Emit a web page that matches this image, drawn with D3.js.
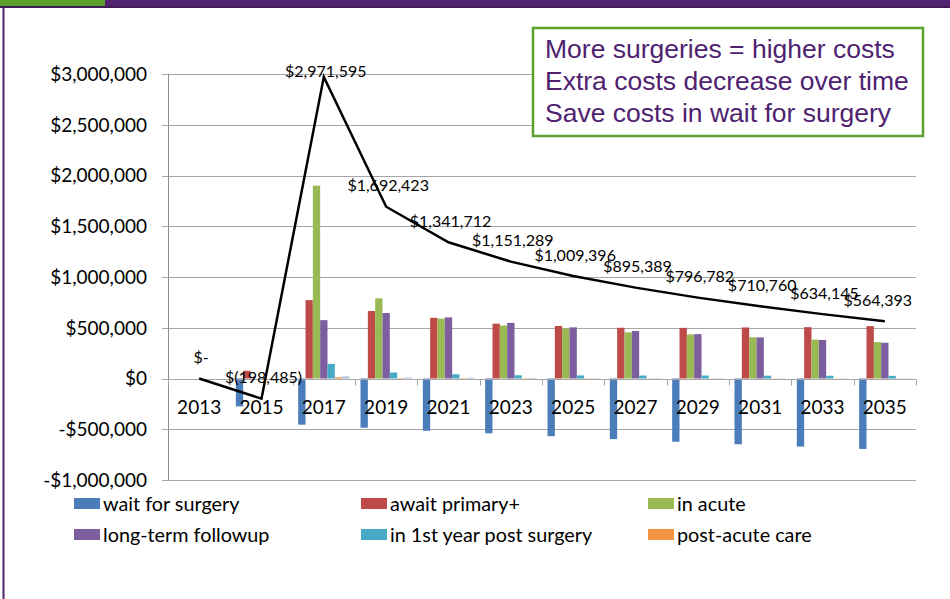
<!DOCTYPE html>
<html>
<head>
<meta charset="utf-8">
<script src="https://cdn.jsdelivr.net/npm/d3@7"></script>
<style>
  body { margin: 0; background: #fff; }
  svg { display: block; }
</style>
</head>
<body>
<div id="chart"></div>
<script>
// categories and series
const years = ["2013", "2015", "2017", "2019", "2021", "2023", "2025", "2027", "2029", "2031", "2033", "2035"];
const waitForSurgery = [0, -275000, -455000, -485000, -515000, -540000, -568000, -597000, -623000, -648000, -671000, -694000];
const awaitPrimary = [0, 76515, 772000, 665000, 598000, 540000, 517000, 500000, 499000, 503000, 506000, 516000];
const inAcute = [0, 0, 1900000, 790000, 590000, 522000, 492000, 455000, 434000, 406000, 383000, 358000];
const longTermFollowup = [0, 0, 575000, 645000, 602000, 548000, 504000, 468000, 437000, 405000, 380000, 352000];
const firstYearPost = [0, 0, 144000, 59000, 42000, 32000, 30000, 29000, 29000, 28000, 27000, 26000];
const postAcute = [0, 0, 13000, 5000, 4000, 3000, 3000, 3000, 2000, 2000, 2000, 2000];
const otherCare = [0, 0, 20000, 10000, 8000, 6000, 5000, 4000, 4000, 3000, 3000, 3000];
const totals = [0, -198485, 2971595, 1692423, 1341712, 1151289, 1009396, 895389, 796782, 710760, 634145, 564393];
const yTicks = [-1000000, -500000, 0, 500000, 1000000, 1500000, 2000000, 2500000, 3000000];
const notes = ["More surgeries = higher costs", "Extra costs decrease over time", "Save costs in wait for surgery"];

const series = [
  { name: "wait for surgery", values: waitForSurgery, color: "#4A7DBA", legend: true },
  { name: "await primary+", values: awaitPrimary, color: "#BE4B48", legend: true },
  { name: "in acute", values: inAcute, color: "#98B954", legend: true },
  { name: "long-term followup", values: longTermFollowup, color: "#7D5FA0", legend: true },
  { name: "in 1st year post surgery", values: firstYearPost, color: "#46AAC5", legend: true },
  { name: "post-acute care", values: postAcute, color: "#F59445", legend: true },
  { name: "other", values: otherCare, color: "#A9BCDF", legend: false }
];

const width = 950;
const height = 599;
const axisFont = "Lato, 'Liberation Sans', Arial, sans-serif";

const svg = d3.select("#chart")
  .append("svg")
  .attr("width", width)
  .attr("height", height);

// slide frame: banner on top and a line down the left
svg.append("rect").attr("x", 0).attr("y", 0).attr("width", width).attr("height", 8).attr("fill", "#52246F");
svg.append("rect").attr("x", 0).attr("y", 0).attr("width", 105).attr("height", 6).attr("fill", "#5BA02A");
svg.append("rect").attr("x", 0).attr("y", 6).attr("width", width).attr("height", 2).attr("fill", "#3E1A57");
svg.append("line").attr("x1", 3.5).attr("x2", 3.5).attr("y1", 8).attr("y2", height)
  .attr("stroke", "#52246F").attr("stroke-width", 2);

// plot area
const plot = { left: 168, right: 916, top: 74, bottom: 480 };
const chartTop = 62;

const x = d3.scaleBand().domain(years).range([plot.left, plot.right]).padding(0);
const y = d3.scaleLinear().domain([-1000000, 3000000]).range([plot.bottom, plot.top]);

const barW = x.bandwidth() / (series.length + 1.5);

// gridlines
svg.append("g")
  .selectAll("line")
  .data(yTicks)
  .join("line")
  .attr("x1", plot.left - 6)
  .attr("x2", plot.right)
  .attr("y1", d => Math.round(y(d)) + 0.5)
  .attr("y2", d => Math.round(y(d)) + 0.5)
  .attr("stroke", "#A6A6A6")
  .attr("stroke-width", 1);

// y axis line and labels
svg.append("line")
  .attr("x1", plot.left + 0.5).attr("x2", plot.left + 0.5)
  .attr("y1", y(3000000)).attr("y2", y(-1000000))
  .attr("stroke", "#8C8C8C");

const moneyAxis = d => (d < 0 ? "-$" : "$") + d3.format(",")(Math.abs(d));

svg.append("g")
  .selectAll("text")
  .data(yTicks)
  .join("text")
  .attr("x", plot.left - 21)
  .attr("y", d => y(d))
  .attr("dy", "0.36em")
  .attr("text-anchor", "end")
  .style("font-family", axisFont)
  .style("font-size", "19px")
  .attr("fill", "#000")
  .text(moneyAxis);

// bars
const barGroups = svg.append("g")
  .selectAll("g")
  .data(series)
  .join("g")
  .attr("fill", d => d.color);

barGroups.each(function (s, si) {
  d3.select(this)
    .selectAll("rect")
    .data(s.values.map((v, i) => ({ year: years[i], value: v })))
    .join("rect")
    .attr("x", d => x(d.year) + barW * 0.75 + si * barW)
    .attr("width", barW)
    .attr("y", d => Math.min(y(d.value), y(0)))
    .attr("height", d => Math.abs(y(d.value) - y(0)));
});

// category axis at zero, ticks between categories
const zeroY = Math.round(y(0)) + 0.5;
svg.append("line")
  .attr("x1", plot.left).attr("x2", plot.right)
  .attr("y1", zeroY).attr("y2", zeroY)
  .attr("stroke", "#A6A6A6");

svg.append("g")
  .selectAll("line")
  .data(years.concat(["end"]))
  .join("line")
  .attr("x1", (d, i) => Math.round(plot.left + i * x.bandwidth()) + 0.5)
  .attr("x2", (d, i) => Math.round(plot.left + i * x.bandwidth()) + 0.5)
  .attr("y1", zeroY)
  .attr("y2", zeroY + 6)
  .attr("stroke", "#A6A6A6");

svg.append("g")
  .selectAll("text")
  .data(years)
  .join("text")
  .attr("x", d => x(d) + x.bandwidth() / 2)
  .attr("y", y(0) + 35)
  .attr("text-anchor", "middle")
  .style("font-family", axisFont)
  .style("font-size", "19px")
  .attr("fill", "#000")
  .text(d => d);

// total line
const lineData = totals.map((v, i) => ({ year: years[i], value: v }));
const line = d3.line()
  .x(d => x(d.year) + x.bandwidth() / 2)
  .y(d => y(d.value));

svg.append("path")
  .datum(lineData)
  .attr("d", line)
  .attr("fill", "none")
  .attr("stroke", "#000")
  .attr("stroke-width", 2.5)
  .attr("stroke-linejoin", "miter");

const moneyLabel = d => d === 0 ? "$-" : d < 0 ? "$(" + d3.format(",")(-d) + ")" : "$" + d3.format(",")(d);

const labels = svg.append("g")
  .selectAll("text")
  .data(lineData)
  .join("text")
  .attr("x", d => x(d.year) + x.bandwidth() / 2 + 2)
  .attr("y", d => Math.max(y(d.value) - 21, chartTop + 9))
  .attr("dy", "0.36em")
  .attr("text-anchor", "middle")
  .style("font-family", axisFont)
  .style("font-size", "16px")
  .attr("fill", "#000")
  .text(d => moneyLabel(d.value));

// keep labels inside the chart area on the right
labels.each(function () {
  const bb = this.getBBox();
  const over = bb.x + bb.width - 912;
  if (over > 0) d3.select(this).attr("x", +d3.select(this).attr("x") - over);
});

// legend
const legendItems = series.filter(s => s.legend);
const legendCols = [74, 361, 648];
const legendRows = [504, 535];

const legend = svg.append("g")
  .selectAll("g")
  .data(legendItems)
  .join("g")
  .attr("transform", (d, i) => `translate(${legendCols[i % 3]},${legendRows[Math.floor(i / 3)]})`);

legend.append("rect")
  .attr("x", 0).attr("y", -6)
  .attr("width", 26).attr("height", 11)
  .attr("fill", d => d.color);

legend.append("text")
  .attr("x", 29)
  .attr("y", 0)
  .attr("dy", "0.36em")
  .style("font-family", axisFont)
  .style("font-size", "19.8px")
  .attr("fill", "#000")
  .text(d => d.name);

// note box
svg.append("rect")
  .attr("x", 533).attr("y", 28)
  .attr("width", 390).attr("height", 108)
  .attr("fill", "#fff")
  .attr("stroke", "#5BA02A")
  .attr("stroke-width", 2.5);

svg.append("g")
  .selectAll("text")
  .data(notes)
  .join("text")
  .attr("x", 545)
  .attr("y", (d, i) => 58 + i * 32)
  .style("font-family", "'Liberation Sans', Arial, sans-serif")
  .style("font-size", "26.5px")
  .attr("fill", "#4F2270")
  .text(d => d);
</script>
</body>
</html>
